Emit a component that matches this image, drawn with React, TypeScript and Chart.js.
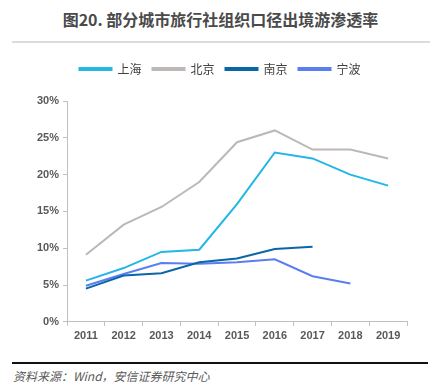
import React, { useEffect, useRef } from "react";
import { Chart, registerables } from "chart.js";

Chart.register(...registerables);

const years = ["2011", "2012", "2013", "2014", "2015", "2016", "2017", "2018", "2019"];
const shanghai = [5.6, 7.3, 9.5, 9.8, 16.0, 23.0, 22.2, 20.0, 18.5];
const beijing = [9.1, 13.2, 15.6, 19.0, 24.4, 26.0, 23.4, 23.4, 22.2];
const nanjing = [4.5, 6.3, 6.6, 8.1, 8.6, 9.9, 10.2, null, null];
const ningbo = [4.9, 6.5, 8.0, 7.9, 8.1, 8.5, 6.2, 5.2, null];
const yTicks = [0, 5, 10, 15, 20, 25, 30];

const seriesNames = ["上海", "北京", "南京", "宁波"];
const seriesColors = ["#23b6e6", "#bdb8b6", "#0a66a6", "#5a7ef0"];

const legendSpacer = {
  id: "legendSpacer",
  beforeInit(chart: any) {
    const orig = chart.legend.fit;
    chart.legend.fit = function fit() {
      orig.bind(chart.legend)();
      this.height += 16;
    };
  },
};

export default function App() {
  const ref = useRef<HTMLCanvasElement | null>(null);

  useEffect(() => {
    if (!ref.current) return;
    const data = [shanghai, beijing, nanjing, ningbo];
    const chart = new Chart(ref.current, {
      type: "line",
      data: {
        labels: years,
        datasets: data.map((d, i) => ({
          label: seriesNames[i],
          data: d,
          borderColor: seriesColors[i],
          backgroundColor: seriesColors[i],
          borderWidth: 2,
          pointRadius: 0,
          tension: 0,
          spanGaps: false,
        })),
      },
      plugins: [legendSpacer],
      options: {
        animation: false,
        responsive: false,
        maintainAspectRatio: false,
        layout: { padding: { left: 33, right: 34, top: 0, bottom: 0 } },
        plugins: {
          tooltip: { enabled: false },
          legend: {
            position: "top",
            labels: {
              boxWidth: 32,
              boxHeight: 2,
              padding: 11,
              color: "#404040",
              font: { family: "'Noto Sans CJK SC', sans-serif", size: 12 },
            },
          },
        },
        scales: {
          x: {
            type: "category",
            offset: true,
            grid: {
              display: true,
              offset: true,
              drawOnChartArea: false,
              drawTicks: true,
              tickLength: 4,
              color: "#bfbfbf",
            },
            border: { display: true, color: "#bfbfbf", width: 1 },
            ticks: {
              color: "#595959",
              padding: 4,
              font: { family: "'Liberation Sans', Arial, sans-serif", size: 11, weight: "bold" },
            },
          },
          y: {
            min: 0,
            max: 30,
            afterBuildTicks: (axis: any) => {
              axis.ticks = yTicks.map((v) => ({ value: v }));
            },
            grid: {
              display: true,
              drawOnChartArea: false,
              drawTicks: true,
              tickLength: 4,
              color: "#bfbfbf",
            },
            border: { display: true, color: "#bfbfbf", width: 1 },
            ticks: {
              color: "#595959",
              padding: 4,
              callback: (v: any) => v + "%",
              font: { family: "'Liberation Sans', Arial, sans-serif", size: 11, weight: "bold" },
            },
          },
        },
      },
    });
    return () => chart.destroy();
  }, []);

  return (
    <div
      style={{
        position: "fixed",
        left: 0,
        top: 0,
        width: 441,
        height: 389,
        background: "#fff",
        overflow: "hidden",
      }}
    >
      <div
        style={{
          position: "absolute",
          left: 0,
          top: 8,
          width: 441,
          textAlign: "center",
          fontFamily: "'Noto Sans CJK SC', sans-serif",
          fontSize: 16,
          fontWeight: "bold",
          color: "#4a4a4a",
          lineHeight: "22px",
        }}
      >
        图20. 部分城市旅行社组织口径出境游渗透率
      </div>
      <div
        style={{
          position: "absolute",
          left: 12,
          top: 41,
          width: 418,
          height: 2,
          background: "#dcdcdc",
        }}
      />
      <canvas
        ref={ref}
        width={441}
        height={295}
        style={{ position: "absolute", left: 0, top: 52, width: 441, height: 295 }}
      />
      <div
        style={{
          position: "absolute",
          left: 12,
          top: 362,
          width: 416,
          height: 2,
          background: "#111",
        }}
      />
      <div
        style={{
          position: "absolute",
          left: 13,
          top: 367,
          fontFamily: "'Noto Sans CJK SC', sans-serif",
          fontSize: 12,
          fontStyle: "italic",
          color: "#595959",
          lineHeight: "18px",
          whiteSpace: "nowrap",
        }}
      >
        资料来源：Wind，安信证券研究中心
      </div>
    </div>
  );
}
